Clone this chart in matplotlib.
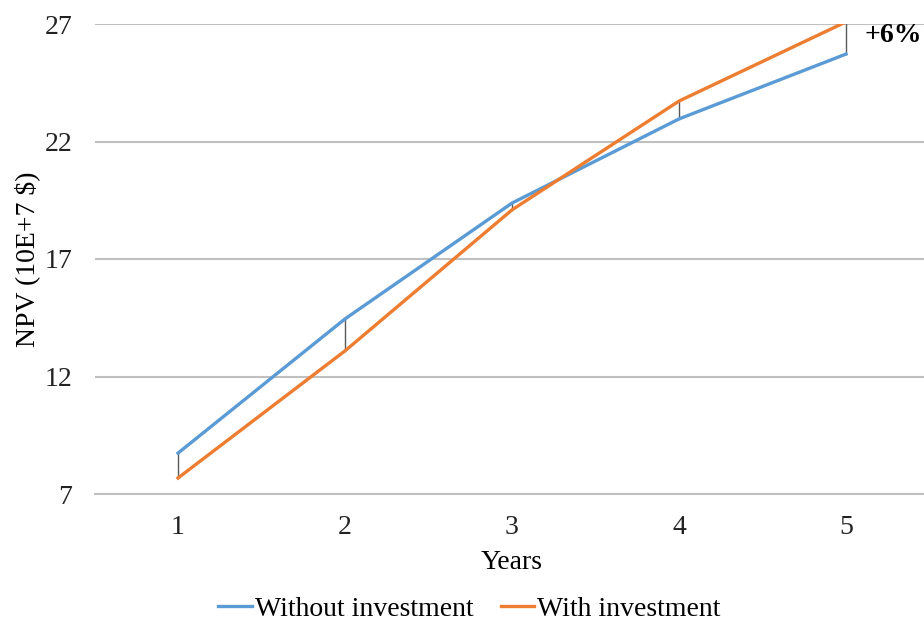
import numpy as np
import matplotlib.pyplot as plt

plt.rcParams['font.family'] = ['Liberation Serif', 'DejaVu Serif']

years = [1, 2, 3, 4, 5]
npv_without = [8.74, 14.45, 19.38, 22.96, 25.72]
npv_with = [7.68, 13.09, 19.09, 23.72, 27.09]
y_ticks = [7, 12, 17, 22, 27]

fs = 20

fig = plt.figure(figsize=(9.24, 6.23), dpi=100)
ax = fig.add_axes([94.5 / 924, 1 - 494 / 623, 835 / 924, 470 / 623])

# high-low lines between the two series
for x, a, b in zip(years, npv_without, npv_with):
    ax.plot([x, x], [a, b], color='#595959', lw=1.0, zorder=2)

ax.plot(years, npv_without, color='#5B9BD5', lw=2.4, label='Without investment', zorder=3)
ax.plot(years, npv_with, color='#ED7D31', lw=2.4, label='With investment', zorder=4)

ax.set_xlim(0.5, 5.5)
ax.set_ylim(7, 27)
ax.set_xticks(years)
ax.set_yticks(y_ticks)
ax.grid(axis='y', color='#C0C0C0', lw=1.5, zorder=1)
ax.set_axisbelow(True)
for s in ['top', 'right', 'left']:
    ax.spines[s].set_visible(False)
ax.spines['bottom'].set_color('#C0C0C0')
ax.spines['bottom'].set_linewidth(1.5)
ax.tick_params(axis='both', length=0, labelsize=fs, colors='#222222')
ax.tick_params(axis='y', pad=16)
ax.tick_params(axis='x', pad=15)

ax.set_xlabel('Years', fontsize=fs, labelpad=7)
ax.set_ylabel('NPV (10E+7 $)', fontsize=fs, labelpad=3)

ax.text(5.11, 26.5, '+6%', fontsize=fs, fontweight='bold', va='center', ha='left')

fig.legend(loc='lower center', bbox_to_anchor=(0.508, -0.02), ncol=2, frameon=False,
           fontsize=fs, handlelength=1.2, handletextpad=0.1, columnspacing=1.0,
           borderpad=0.0)

fig.savefig('out.png', dpi=100)
